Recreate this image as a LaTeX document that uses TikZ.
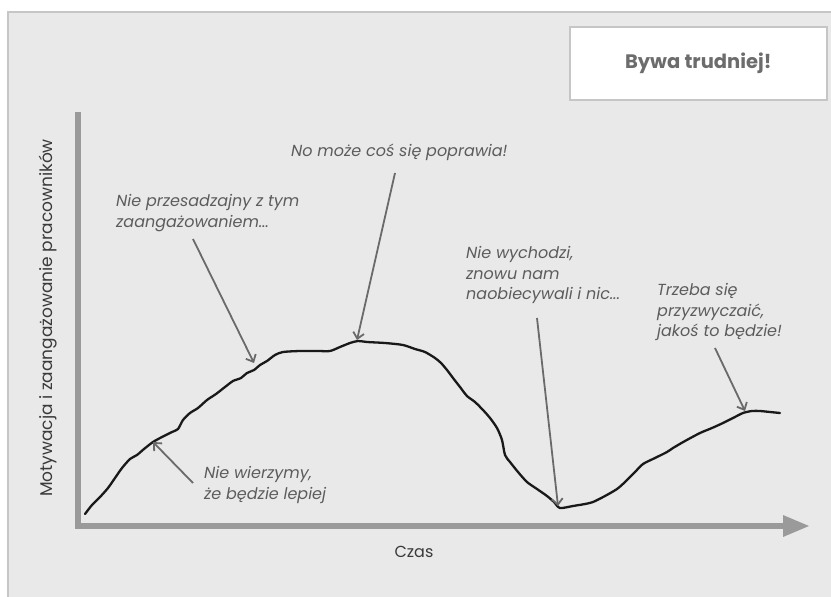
\documentclass[tikz,border=0pt]{standalone}
\usepackage{fontspec}
\setmainfont{Poppins}
\usetikzlibrary{arrows.meta}
\definecolor{panelfill}{HTML}{E9E9E9}
\definecolor{panelline}{HTML}{C6C6C6}
\definecolor{axisgray}{HTML}{9A9A9A}
\definecolor{notegray}{HTML}{5C5C5C}
\definecolor{arrowgray}{HTML}{6A6A6A}
\definecolor{labelgray}{HTML}{3A3A3A}
\tikzset{
  note/.style={font=\fontsize{16}{20.5}\selectfont\itshape, text=notegray, align=left, inner sep=0pt, anchor=west},
  pointer/.style={draw=arrowgray, line width=1.8pt, -{Straight Barb[length=6pt,width=11pt,line width=1.8pt]}},
  axisline/.style={draw=axisgray, line width=6pt},
  curveline/.style={draw=black!90, line width=2.3pt, line join=round, line cap=round}
}
\begin{document}
\begin{tikzpicture}[x=1pt,y=-1pt]
\useasboundingbox (0,0) rectangle (831,597);
\fill[white] (0,0) rectangle (831,597);
% panel
\fill[panelfill] (8,12) rectangle (831,597);
\draw[panelline, line width=1.5pt] (8,597) -- (8,12) -- (831,12);
% title box
\node[draw=panelline, line width=1.5pt, fill=white, minimum width=257pt, minimum height=73pt, anchor=north west, inner sep=0pt] (titlebox) at (569,26) {};
\node[font=\fontsize{19.5}{22}\selectfont\bfseries, text=notegray!90] (title) at (titlebox.center) {Bywa trudniej!};
% axes
\coordinate (ytop) at (78,112);
\coordinate (origin) at (78,526);
\coordinate (xend) at (786,526);
\draw[axisline] (ytop) -- (origin) -- (xend);
\fill[axisgray] (783,515) -- (809,526) -- (783,537) -- cycle;
\node[font=\fontsize{17}{20}\selectfont, text=labelgray, rotate=90] (ylab) at (48,318) {Motywacja i zaangażowanie pracowników};
\node[font=\fontsize{16}{19}\selectfont, text=labelgray] (xlab) at (414,552) {Czas};
% curve
\draw[curveline] plot[smooth, tension=0.45] coordinates {
(85,514) (92,505) (100,497) (108,488) (115,478) (122,468) (130,459) (137,455) (144,449) (153,442) (162,437) (172,432) (178,429) (183,420) (190,413) (198,408) (207,400) (216,394) (225,387) (233,381) (241,378) (247,373) (254,370) (260,365) (267,361) (275,355) (283,352) (300,351) (318,351) (330,351) (340,347) (350,343) (358,341) (367,342) (385,343) (403,345) (415,349) (425,352) (435,358) (441,363) (447,370) (453,378) (460,387) (467,396) (475,402) (483,410) (490,418) (497,428) (502,440) (505,455) (510,462) (518,472) (527,482) (537,489) (547,496) (554,502) (560,508) (573,506) (585,504) (593,502) (605,496) (617,489) (625,482) (635,472) (643,464) (655,458) (667,452) (673,448) (685,441) (700,433) (712,428) (723,423) (733,418) (743,413) (752,411) (760,411) (770,412) (780,413)};
% points on curve
\coordinate (p1) at (153,442);
\coordinate (p2) at (254,363);
\coordinate (p3) at (357,340);
\coordinate (p4) at (558,506);
\coordinate (p5) at (745,411);
% notes
\node[note] (n1) at (204,485) {Nie wierzymy,\\że będzie lepiej};
\node[note] (n2) at (116,213) {Nie przesadzajny z tym\\zaangażowaniem...};
\node[note] (n3) at (291,152) {No może coś się poprawia!};
\node[note] (n4) at (466,275) {Nie wychodzi,\\znowu nam\\naobiecywali i nic...};
\node[note] (n5) at (657,312) {Trzeba się\\przyzwyczaić,\\jakoś to będzie!};
% pointer tails
\coordinate (t1) at (193,483);
\coordinate (t2) at (193,239);
\coordinate (t3) at (395,173);
\coordinate (t4) at (537,318);
\coordinate (t5) at (715,348);
\draw[pointer] (t1) -- (p1);
\draw[pointer] (t2) -- (p2);
\draw[pointer] (t3) -- (p3);
\draw[pointer] (t4) -- (p4);
\draw[pointer] (t5) -- (p5);
\end{tikzpicture}
\end{document}
